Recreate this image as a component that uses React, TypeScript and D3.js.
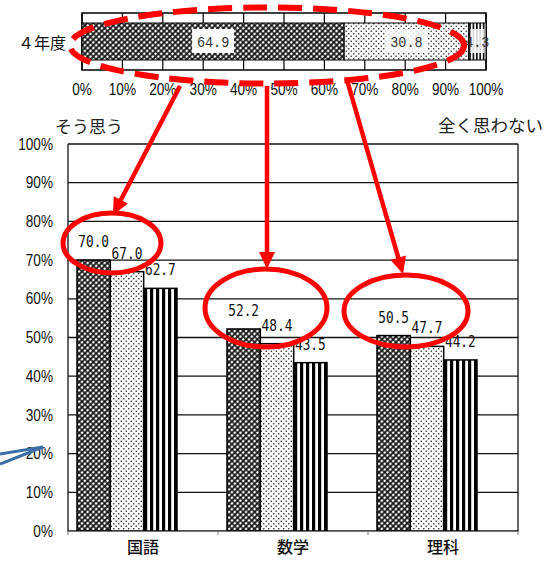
import React from "react";
import * as d3 from "d3";

// ---- data ----
const subjects = ["国語", "数学", "理科"];
const seriesSoOmou = [70.0, 52.2, 50.5];
const seriesMiddle = [67.0, 48.4, 47.7];
const seriesZenku = [62.7, 43.5, 44.2];
const pctTicks = [0, 10, 20, 30, 40, 50, 60, 70, 80, 90, 100];
const topCategory = "４年度";
const topValues = [64.9, 30.8, 4.3];
const legendLeft = "そう思う";
const legendRight = "全く思わない";

const W = 550;
const H = 561;
const JP = "'Noto Sans CJK JP', sans-serif";
const NUM = "'Liberation Sans', Arial, sans-serif";
const MONO = "'DejaVu Sans Mono', monospace";
const SERIF_MONO = "'Liberation Mono', monospace";

const fills = ["url(#cross)", "url(#dots)", "url(#stripes)"];
const topFills = ["url(#cross)", "url(#dots)", "url(#stripesSmall)"];

function Arrow({ x1, y1, x2, y2 }: { x1: number; y1: number; x2: number; y2: number }) {
  const dx = x2 - x1, dy = y2 - y1;
  const L = Math.hypot(dx, dy);
  const ux = dx / L, uy = dy / L;
  const hl = 17, hw = 8;
  const bx = x2 - ux * hl, by = y2 - uy * hl;
  const px = -uy, py = ux;
  return (
    <g>
      <line x1={x1} y1={y1} x2={bx + ux * 2} y2={by + uy * 2} stroke="#f00" strokeWidth={4.5} />
      <polygon
        points={`${x2},${y2} ${bx + px * hw},${by + py * hw} ${bx - px * hw},${by - py * hw}`}
        fill="#f00"
      />
    </g>
  );
}

export default function App() {
  // main chart scales
  const y = d3.scaleLinear().domain([0, 100]).range([531, 144]);
  const xCat = d3.scaleBand<string>().domain(subjects).range([68, 518]).padding(0);
  const xGroup = d3
    .scaleBand<string>()
    .domain(subjects)
    .range([68, 518])
    .paddingInner(1 / 3)
    .paddingOuter(1 / 6)
    .align(0.18);
  const seriesList = [seriesSoOmou, seriesMiddle, seriesZenku];
  const xSeries = d3.scaleBand<number>().domain([0, 1, 2]).range([0, xGroup.bandwidth()]);

  // top stacked bar
  const xt = d3.scaleLinear().domain([0, 100]).range([82, 486]);
  const cum = [0, ...d3.cumsum(topValues)];
  const topY0 = 13, topY1 = 70, barY0 = 23, barY1 = 60;

  return (
    <svg
      width={W}
      height={H}
      viewBox={`0 0 ${W} ${H}`}
      style={{ position: "absolute", left: 0, top: 0, background: "#fff" }}
    >
      <defs>
        <pattern id="cross" width={4} height={4} patternUnits="userSpaceOnUse" patternTransform="rotate(45)">
          <rect width={4} height={4} fill="#fff" />
          <path d="M0,2H4M2,0V4" stroke="#111" strokeWidth={1.7} />
        </pattern>
        <pattern id="dots" width={5} height={5} patternUnits="userSpaceOnUse">
          <rect width={5} height={5} fill="#fff" />
          <rect x={0.6} y={0.6} width={1.3} height={1.3} fill="#1a1a1a" />
          <rect x={3.1} y={3.1} width={1.3} height={1.3} fill="#1a1a1a" />
        </pattern>
        <pattern id="stripes" width={6} height={6} patternUnits="userSpaceOnUse">
          <rect width={6} height={6} fill="#fff" />
          <rect x={0} width={3.2} height={6} fill="#000" />
        </pattern>
        <pattern id="stripesSmall" width={3.4} height={4} patternUnits="userSpaceOnUse">
          <rect width={3.4} height={4} fill="#fff" />
          <rect x={0} width={1.6} height={4} fill="#000" />
        </pattern>
      </defs>

      {/* ---------- top stacked bar ---------- */}
      <text x={42} y={43} dy="0.35em" textAnchor="middle" fontFamily={JP} fontSize={16} fill="#111">
        {topCategory}
      </text>
      <rect x={xt(0)} y={topY0} width={xt(100) - xt(0)} height={topY1 - topY0} fill="#fff" stroke="#000" strokeWidth={1.5} />
      {pctTicks.map((t) => (
        <line key={"tg" + t} x1={xt(t)} x2={xt(t)} y1={topY0} y2={topY1} stroke="#000" strokeWidth={1.2} />
      ))}
      {topValues.map((v, i) => (
        <rect
          key={"tb" + i}
          x={xt(cum[i])}
          y={barY0}
          width={xt(cum[i + 1]) - xt(cum[i])}
          height={barY1 - barY0}
          fill={topFills[i]}
          stroke="#000"
          strokeWidth={1}
        />
      ))}
      {topValues.map((v, i) => {
        const cx = (xt(cum[i]) + xt(cum[i + 1])) / 2;
        const bw = i === 2 ? 14 : 42;
        return (
          <g key={"tl" + i}>
            <rect x={cx - bw / 2} y={29} width={bw} height={24} fill="#fbfbfb" opacity={i === 0 ? 1 : 0.85} />
            <text
              transform={`translate(${cx},${42}) scale(0.9,1)`}
              textAnchor="middle"
              dy="0.35em"
              fontFamily={SERIF_MONO}
              fontSize={15}
              fill="#333"
            >
              {v.toFixed(1)}
            </text>
          </g>
        );
      })}
      {pctTicks.map((t) => (
        <text
          key={"tt" + t}
          transform={`translate(${xt(t)},${89}) scale(0.85,1)`}
          textAnchor="middle"
          dy="0.35em"
          fontFamily={NUM}
          fontSize={16}
          fill="#111"
        >
          {t}%
        </text>
      ))}

      {/* ---------- legends ---------- */}
      <text x={55} y={127} dy="0.35em" fontFamily={JP} fontSize={17} fill="#222">
        {legendLeft}
      </text>
      <text x={438} y={126} dy="0.35em" fontFamily={JP} fontSize={17.5} fill="#222">
        {legendRight}
      </text>

      {/* ---------- main chart ---------- */}
      {pctTicks.map((t) => (
        <line key={"g" + t} x1={68} x2={518} y1={y(t)} y2={y(t)} stroke="#111" strokeWidth={1.3} />
      ))}
      <line x1={68} x2={68} y1={y(100)} y2={y(0)} stroke="#111" strokeWidth={1.3} />
      <line x1={518} x2={518} y1={y(100)} y2={y(0)} stroke="#111" strokeWidth={1.3} />

      {subjects.map((s, ci) =>
        seriesList.map((series, si) => {
          const v = series[ci];
          const bx = (xGroup(s) as number) + (xSeries(si) as number);
          const bw = xSeries.bandwidth();
          return (
            <rect
              key={s + si}
              x={bx}
              y={y(v)}
              width={bw}
              height={y(0) - y(v)}
              fill={fills[si]}
              stroke="#000"
              strokeWidth={1.5}
            />
          );
        })
      )}
      {subjects.map((s, ci) =>
        seriesList.map((series, si) => {
          const v = series[ci];
          const cx = (xGroup(s) as number) + (xSeries(si) as number) + xSeries.bandwidth() / 2;
          return (
            <text
              key={"vl" + s + si}
              transform={`translate(${cx},${y(v) - 13}) scale(0.8,1)`}
              textAnchor="middle"
              fontFamily={MONO}
              fontSize={16}
              fill="#111"
            >
              {v.toFixed(1)}
            </text>
          );
        })
      )}

      {/* bottom axis */}
      <line x1={67} x2={519} y1={y(0) + 0.5} y2={y(0) + 0.5} stroke="#777" strokeWidth={1} />
      {[...subjects.map((s) => xCat(s) as number), 518].map((xx, i) => (
        <line key={"bt" + i} x1={xx} x2={xx} y1={y(0)} y2={y(0) + 4} stroke="#777" strokeWidth={1} />
      ))}
      {subjects.map((s) => (
        <text
          key={"cl" + s}
          x={(xCat(s) as number) + xCat.bandwidth() / 2}
          y={547}
          dy="0.35em"
          textAnchor="middle"
          fontFamily={JP}
          fontSize={16}
          fontWeight={500}
          fill="#111"
        >
          {s}
        </text>
      ))}
      {/* y tick labels */}
      {pctTicks.map((t) => (
        <text
          key={"yl" + t}
          transform={`translate(${53},${y(t)}) scale(0.85,1)`}
          textAnchor="end"
          dy="0.35em"
          fontFamily={NUM}
          fontSize={16}
          fill="#111"
        >
          {t}%
        </text>
      ))}

      {/* ---------- annotations ---------- */}
      <ellipse cx={267} cy={45.5} rx={197} ry={38} fill="none" stroke="#f00" strokeWidth={6} strokeDasharray="24 11" />
      <Arrow x1={180} y1={86} x2={113} y2={215} />
      <Arrow x1={267} y1={86} x2={267} y2={269} />
      <Arrow x1={347} y1={80} x2={403} y2={274} />
      <ellipse cx={112} cy={243} rx={49} ry={30} fill="none" stroke="#f00" strokeWidth={5} />
      <ellipse cx={266} cy={308} rx={61} ry={39} fill="none" stroke="#f00" strokeWidth={5} />
      <ellipse cx={406} cy={311} rx={62} ry={36} fill="none" stroke="#f00" strokeWidth={5} />

      <line x1={0} y1={454} x2={43} y2={447} stroke="#3c6ea6" strokeWidth={3} />
      <line x1={0} y1={464} x2={43} y2={447} stroke="#3c6ea6" strokeWidth={3} />
    </svg>
  );
}
